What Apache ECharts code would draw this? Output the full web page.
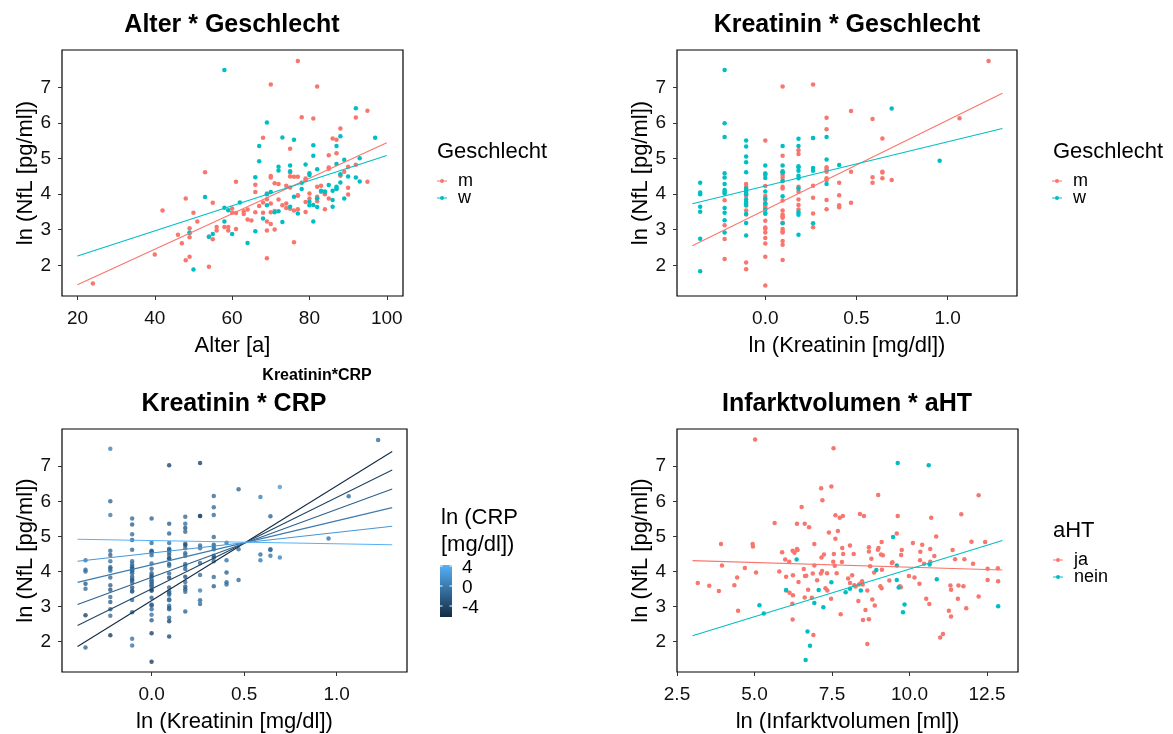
<!DOCTYPE html>
<html>
<head>
<meta charset="utf-8">
<script src="https://cdn.jsdelivr.net/npm/echarts@6/dist/echarts.min.js"></script>
<style>
  html, body { margin: 0; padding: 0; background: #ffffff; }
  #chart { width: 1173px; height: 734px; }
</style>
</head>
<body>
<div id="chart"></div>
<script>
// ---------- data ----------
// Alter [a] vs. ln(NfL) by sex
const alterM = [
  [77,7.75],[70,7.09],[82,7.03],[95,6.35],[92,6.16],[78,6.17],[81,6.13],[88,5.85],[68,5.59],[86,5.57],
  [87,5.53],[75,5.28],[87,5.15],[85,5.10],[53,4.62],[92,4.83],[90,4.77],[85,4.75],[85,4.72],[75,4.61],
  [89,4.63],[88,4.52],[70,4.51],[70,4.47],[76,4.49],[77,4.49],[75,4.50],[79,4.44],[79,4.40],[71,4.31],
  [72,4.29],[95,4.35],[61,4.35],[66,4.27],[83,4.24],[82,4.21],[90,4.18],[74,4.24],[75,4.19],[83,4.07],
  [84,4.00],[66,4.06],[80,4.02],[90,3.99],[69,4.02],[77,3.97],[77,3.96],[48,3.88],[55,3.76],[80,3.88],
  [82,3.93],[82,3.89],[85,3.88],[72,3.85],[82,3.80],[68,3.77],[69,3.86],[70,3.74],[79,3.78],[74,3.74],
  [73,3.69],[67,3.67],[42,3.54],[50,3.48],[60,3.60],[84,3.58],[77,3.58],[74,3.61],[75,3.59],[76,3.54],
  [70,3.49],[71,3.53],[79,3.50],[66,3.49],[68,3.48],[60,3.48],[61,3.47],[63,3.52],[63,3.44],[64,3.57],
  [64,3.29],[65,3.26],[69,3.23],[70,3.16],[51,3.23],[56,3.08],[58,3.08],[59,3.08],[61,3.02],[59,2.98],
  [56,2.98],[49,3.04],[49,2.91],[46,2.86],[69,2.98],[71,3.01],[47,2.62],[55,2.73],[54,2.80],[49,2.79],
  [76,2.65],[40,2.30],[49,2.24],[48,2.14],[54,1.96],[69,2.20],[24,1.49]
];
const alterW = [
  [58,7.50],[92,6.42],[69,6.02],[88,5.63],[73,5.60],[97,5.59],[76,5.53],[67,5.36],[81,5.38],[87,5.36],
  [81,5.08],[67,4.93],[93,5.01],[89,4.97],[72,4.77],[75,4.81],[79,4.84],[87,4.85],[82,4.70],[72,4.67],
  [75,4.65],[80,4.59],[80,4.54],[66,4.48],[92,4.47],[90,4.50],[88,4.56],[78,4.32],[93,4.36],[88,4.33],
  [85,4.26],[87,4.21],[87,4.16],[87,4.15],[78,4.15],[83,4.10],[84,4.08],[84,4.06],[86,4.10],[70,4.06],
  [53,3.92],[69,4.00],[89,3.88],[82,3.88],[86,3.84],[76,3.93],[80,3.79],[80,3.69],[81,3.70],[69,3.69],
  [62,3.77],[58,3.62],[59,3.55],[86,3.65],[75,3.65],[71,3.49],[72,3.52],[77,3.46],[82,3.64],[68,3.32],
  [73,3.22],[81,3.23],[58,3.23],[49,2.92],[66,2.96],[55,2.88],[60,2.88],[54,2.80],[64,2.63],[50,1.88]
];
// fitted lines, Alter range 20..100
const alterFitM = [[20,1.45],[100,5.45]];
const alterFitW = [[20,2.26],[100,5.09]];

// ln(Kreatinin) vs. ln(NfL) by sex; third value = ln(CRP [mg/dl])
const kreaM = [
  [-0.223,3.83,-1.2],[-0.223,3.13,-2.0],[-0.223,2.74,-0.8],[-0.223,2.18,-4.5],
  [-0.105,4.29,-1.5],[-0.105,4.21,-0.6],[-0.105,4.02,-2.2],[-0.105,3.95,-1.0],[-0.105,3.54,-2.8],[-0.105,3.43,-1.4],[-0.105,2.08,-0.5],[-0.105,1.89,-0.2],
  [0,5.51,-1.6],[0,4.59,-2.4],[0,4.54,-1.1],[0,4.23,-0.7],[0,3.95,-1.8],[0,3.84,-3.0],[0,3.74,-1.3],[0,3.70,-0.4],[0,3.65,-2.1],[0,3.60,-1.0],
  [0,3.48,-3.4],[0,3.25,-1.5],[0,3.06,-0.6],[0,3.03,-2.6],[0,2.92,-1.2],[0,2.77,-0.3],[0,2.61,-1.9],[0,2.24,-4.3],[0,1.43,-4.6],
  [0.095,7.03,-4.2],[0.095,5.08,-1.4],[0.095,4.61,-3.1],[0.095,4.54,-0.9],[0.095,4.47,-1.7],[0.095,4.38,-0.5],[0.095,4.21,-2.5],[0.095,4.16,-1.1],
  [0.095,3.82,-3.6],[0.095,3.54,-1.6],[0.095,3.43,-0.8],[0.095,3.38,-2.2],[0.095,3.34,-1.3],[0.095,3.20,-3.8],[0.095,3.02,-0.7],[0.095,2.96,-2.9],
  [0.095,2.92,-1.5],[0.095,2.68,-0.9],[0.095,2.58,-4.0],[0.095,2.15,-3.5],
  [0.182,5.24,-2.7],[0.182,5.13,-1.2],[0.182,4.21,-0.6],[0.182,4.07,-1.9],[0.182,3.85,-3.2],[0.182,3.70,-1.0],[0.182,3.57,-2.3],
  [0.262,7.09,-4.4],[0.262,5.58,-2.6],[0.262,4.24,-1.3],[0.262,3.90,-0.7],[0.262,3.46,0.6],[0.262,3.07,-1.1],
  [0.336,6.15,-1.4],[0.336,5.83,-0.9],[0.336,4.76,-2.0],[0.336,4.70,-1.2],[0.336,4.63,-0.5],[0.336,4.45,-1.6],[0.336,4.40,-2.4],[0.336,3.84,-1.0],[0.336,3.58,-1.8],
  [0.405,4.32,-0.4],[0.405,3.97,-2.1],[0.405,3.69,-1.3],[0.405,3.63,-0.8],
  [0.470,6.34,-1.5],[0.470,4.63,-0.6],[0.470,3.76,-1.2],
  [0.588,6.12,0.3],[0.588,4.48,-1.0],[0.588,4.32,0.1],
  [0.642,5.57,-1.7],[0.642,4.63,-2.3],[0.642,4.61,-1.1],[0.642,4.45,-0.4],
  [0.693,4.40,0.8],
  [1.065,6.14,-0.9],
  [1.224,7.75,-1.1]
];
const kreaW = [
  [-0.357,4.32,-0.2],[-0.357,4.05,-1.3],[-0.357,4.00,-0.9],[-0.357,3.65,-2.4],[-0.357,3.51,-1.1],[-0.357,2.75,-4.3],[-0.357,1.83,-1.5],
  [-0.223,7.50,0.6],[-0.223,6.00,-1.4],[-0.223,5.61,0.2],[-0.223,4.59,-1.0],[-0.223,4.47,-1.9],[-0.223,4.29,-0.6],[-0.223,4.12,-2.2],
  [-0.223,4.07,-1.2],[-0.223,4.02,-0.3],[-0.223,3.61,-1.6],[-0.223,3.48,-2.7],[-0.223,3.27,-0.8],[-0.223,2.92,-1.3],
  [-0.105,5.51,-1.1],[-0.105,5.34,-1.8],[-0.105,5.06,-0.7],[-0.105,4.90,-2.3],[-0.105,4.62,-1.2],[-0.105,4.16,-0.4],[-0.105,4.12,-1.5],[-0.105,4.07,-2.8],
  [-0.105,4.00,-1.0],[-0.105,3.85,-1.7],[-0.105,3.79,-0.6],[-0.105,3.74,-3.1],[-0.105,3.68,-1.3],[-0.105,3.44,-2.0],[-0.105,3.19,-0.9],[-0.105,2.84,-1.4],
  [0,4.81,-1.2],[0,4.57,-2.1],[0,4.46,-0.5],[0,4.08,-1.6],[0,3.88,-2.6],[0,3.74,-0.8],[0,3.57,-1.4],[0,3.45,-3.3],
  [0.095,5.36,-2.0],[0.095,4.81,-1.0],[0.095,4.65,-0.6],[0.095,4.61,-1.8],[0.095,4.37,-2.9],[0.095,3.94,-1.2],[0.095,3.18,-0.4],
  [0.182,5.56,-1.3],[0.182,5.36,-0.7],[0.182,4.79,-2.2],[0.182,4.75,-3.5],[0.182,4.66,-1.1],[0.182,4.52,-1.9],[0.182,4.45,-0.5],[0.182,4.16,-1.4],
  [0.182,3.49,-3.0],[0.182,3.42,-1.0],[0.182,2.86,-1.6],
  [0.262,5.58,-3.6],[0.262,4.74,-1.2],[0.262,4.66,-0.6],[0.262,3.18,-1.5],
  [0.336,5.61,-1.0],[0.336,4.98,-1.4],[0.336,4.29,-0.8],
  [0.405,4.82,-0.9],
  [0.693,6.41,2.3],
  [0.956,4.94,-0.6]
];
// fitted lines, ln(Kreatinin) range -0.40..1.30
const kreaFitM = [[-0.40,2.55],[1.30,6.84]];
const kreaFitW = [[-0.40,3.73],[1.30,5.85]];

// Kreatinin * CRP interaction: predicted lines at six CRP levels
const crpRange = [-6.2, 4.2];
const crpLevels = [-6.2, -4.12, -2.04, 0.04, 2.12, 4.2];
const crpFitLeft = [1.86, 2.46, 3.06, 3.69, 4.29, 4.92];   // at ln(Kreatinin) = -0.40
const crpFitRight = [7.42, 6.89, 6.35, 5.82, 5.29, 4.76];  // at ln(Kreatinin) = 1.30
const crpFitX = [-0.40, 1.30];
const crpTicks = [4, 0, -4];

// ln(Infarktvolumen) vs. ln(NfL) by aHT
const infJa = [
  [5.02,7.76],[7.55,7.51],[8.99,6.18],[12.23,6.17],[7.48,6.42],[7.15,6.37],[7.19,6.03],[6.52,5.84],[10.70,5.53],[11.67,5.63],
  [5.65,5.38],[6.37,5.36],[6.62,5.36],[6.76,5.26],[8.40,5.64],[8.53,5.58],[7.61,5.60],[7.85,5.58],[7.75,5.53],[9.62,5.58],
  [7.40,5.11],[7.69,5.15],[7.61,4.93],[9.59,5.08],[10.86,5.00],[12.00,4.85],[12.44,4.84],[3.92,4.78],[4.94,4.78],[4.95,4.71],
  [6.93,4.78],[8.08,4.74],[7.83,4.67],[9.10,4.84],[10.11,4.81],[10.41,4.76],[9.00,4.67],[8.98,4.62],[8.69,4.69],[8.69,4.57],
  [9.75,4.61],[10.35,4.56],[10.67,4.64],[11.39,4.61],[5.89,4.55],[6.23,4.59],[6.37,4.64],[6.39,4.61],[6.29,4.53],[7.24,4.48],
  [7.16,4.40],[7.56,4.50],[7.86,4.50],[8.20,4.50],[8.77,4.36],[9.08,4.48],[9.14,4.46],[9.73,4.47],[9.11,4.05],[3.95,4.17],
  [4.69,4.10],[5.99,4.34],[6.12,4.28],[6.93,4.17],[7.18,4.01],[7.14,3.94],[7.54,4.28],[7.59,4.16],[7.82,4.27],[8.73,4.15],
  [9.43,4.24],[9.45,4.26],[10.34,4.32],[10.47,4.22],[10.67,4.28],[10.80,4.44],[11.47,4.35],[11.77,4.35],[12.05,4.22],[5.05,3.97],
  [5.80,4.00],[6.59,4.07],[6.02,3.85],[6.24,3.89],[6.63,3.87],[6.42,3.70],[6.67,3.88],[6.88,3.94],[7.02,3.75],[7.34,3.95],
  [7.65,3.95],[8.15,3.89],[8.86,3.97],[9.98,3.87],[10.16,3.83],[3.17,3.67],[3.54,3.59],[3.85,3.44],[4.35,3.61],[4.44,3.83],
  [6.02,3.46],[6.13,3.39],[6.24,3.32],[6.73,3.48],[7.29,3.52],[7.35,3.46],[7.47,3.22],[8.02,3.80],[8.08,3.67],[8.22,3.61],
  [8.37,3.63],[8.42,3.66],[8.47,3.72],[8.49,3.63],[8.26,3.57],[8.64,3.46],[9.06,3.58],[9.10,3.52],[9.35,3.74],[9.69,3.58],
  [9.72,3.55],[10.32,3.65],[11.34,3.48],[11.32,3.60],[11.58,3.60],[11.74,3.58],[12.52,4.08],[12.52,3.76],[12.85,4.09],[12.86,3.72],
  [6.62,3.26],[6.85,3.25],[6.22,3.08],[7.78,2.78],[8.35,3.16],[8.80,3.20],[8.88,3.03],[8.58,2.90],[8.50,2.62],[8.69,2.64],
  [10.54,3.22],[10.64,3.07],[11.27,2.88],[11.34,2.72],[11.56,3.22],[11.83,2.95],[12.23,3.29],[4.47,2.88],[6.23,2.63],[6.90,2.19],
  [8.64,1.93],[10.99,2.12],[11.08,2.22]
];
const infNein = [
  [9.62,7.09],[10.62,7.03],[9.47,4.98],[6.36,4.34],[9.59,4.17],[8.93,4.04],[10.65,4.20],[7.48,3.69],[9.59,3.76],[9.65,3.54],
  [10.88,3.78],[6.02,3.47],[7.07,3.47],[8.43,3.46],[7.94,3.41],[8.08,3.51],[7.22,2.98],[6.93,3.10],[5.16,3.04],[5.30,2.80],
  [9.84,3.06],[9.79,2.84],[12.86,3.01],[6.71,2.29],[6.79,1.88],[6.65,1.48]
];
// fitted lines, ln(Infarktvolumen) range 3.0..13.0
const infFitJa = [[3.0,4.31],[13.0,4.04]];
const infFitNein = [[3.0,2.17],[13.0,4.88]];

// tick labels
const ticksNfl = [2, 3, 4, 5, 6, 7];
const ticksAlter = [20, 40, 60, 80, 100];
const ticksKrea = [0, 0.5, 1.0];
const ticksInf = [2.5, 5.0, 7.5, 10.0, 12.5];

// ---------- styling ----------
const FONT = '"Liberation Sans", Arial, Helvetica, sans-serif';
const RED = '#F8766D';
const TEAL = '#00BFC4';
const CRP_LOW = [0x13, 0x2B, 0x43];
const CRP_HIGH = [0x56, 0xB1, 0xF7];
const PT = 4.5;

function crpColor(v) {
  let t = (v - crpRange[0]) / (crpRange[1] - crpRange[0]);
  t = Math.max(0, Math.min(1, t));
  const c = CRP_LOW.map((a, i) => Math.round(a + (CRP_HIGH[i] - a) * t));
  return 'rgb(' + c.join(',') + ')';
}

const grids = [
  { left: 62,  top: 50,  width: 341, height: 246 },
  { left: 677, top: 50,  width: 340, height: 246 },
  { left: 62,  top: 429, width: 345, height: 246 },
  { left: 677, top: 429, width: 341, height: 246 }
].map(g => Object.assign({ show: true, borderColor: '#000', borderWidth: 1.2, backgroundColor: '#fff', containLabel: false }, g));

function xAxisDef(idx, min, max, ticks, fmt, name) {
  return {
    type: 'value', gridIndex: idx, min: min, max: max,
    axisLine: { show: false, onZero: false },
    axisTick: { show: true, length: 4, customValues: ticks, lineStyle: { color: '#333', width: 1 } },
    axisLabel: { customValues: ticks, formatter: fmt, fontFamily: FONT, fontSize: 19, color: '#111', margin: 13 },
    splitLine: { show: false },
    name: name, nameLocation: 'middle', nameGap: 39,
    nameTextStyle: { fontFamily: FONT, fontSize: 22, color: '#000' }
  };
}
function yAxisDef(idx) {
  return {
    type: 'value', gridIndex: idx, min: 1.135, max: 8.06,
    axisLine: { show: false, onZero: false },
    axisTick: { show: true, length: 4, customValues: ticksNfl, lineStyle: { color: '#333', width: 1 } },
    axisLabel: { customValues: ticksNfl, formatter: v => String(v), fontFamily: FONT, fontSize: 19, color: '#111', margin: 11 },
    splitLine: { show: false },
    name: 'ln (NfL [pg/ml])', nameLocation: 'middle', nameGap: 24,
    nameTextStyle: { fontFamily: FONT, fontSize: 22, color: '#000' }
  };
}

function scatter(idx, data, color) {
  return {
    type: 'scatter', xAxisIndex: idx, yAxisIndex: idx, data: data,
    symbolSize: PT, itemStyle: { color: color, opacity: 1 }, silent: true,
    encode: { x: 0, y: 1 }
  };
}
function fitLine(idx, data, color) {
  return {
    type: 'line', xAxisIndex: idx, yAxisIndex: idx, data: data,
    symbol: 'none', lineStyle: { color: color, width: 1.1 }, silent: true, z: 3
  };
}

const series = [
  scatter(0, alterM, RED), scatter(0, alterW, TEAL),
  fitLine(0, alterFitM, RED), fitLine(0, alterFitW, TEAL),
  scatter(1, kreaM, RED), scatter(1, kreaW, TEAL),
  fitLine(1, kreaFitM, RED), fitLine(1, kreaFitW, TEAL),
  {
    type: 'scatter', xAxisIndex: 2, yAxisIndex: 2, data: kreaM.concat(kreaW),
    symbolSize: PT, silent: true, encode: { x: 0, y: 1 },
    itemStyle: { color: p => crpColor(p.value[2]) }
  },
  scatter(3, infJa, RED), scatter(3, infNein, TEAL),
  fitLine(3, infFitJa, RED), fitLine(3, infFitNein, TEAL)
];
crpLevels.forEach((lvl, i) => {
  series.push(fitLine(2, [[crpFitX[0], crpFitLeft[i]], [crpFitX[1], crpFitRight[i]]], crpColor(lvl)));
});

// ---------- titles and legends ----------
function text(x, y, str, size, opts) {
  return {
    type: 'text', x: x, y: y, silent: true,
    style: Object.assign({ text: str, fontFamily: FONT, fontSize: size, fill: '#000',
      textAlign: 'center', textVerticalAlign: 'middle' }, opts || {})
  };
}
function legendKey(x, y, color, label) {
  return [
    { type: 'line', silent: true, shape: { x1: x - 5, y1: y, x2: x + 5, y2: y }, style: { stroke: color, lineWidth: 1 } },
    { type: 'circle', silent: true, shape: { cx: x, cy: y, r: 2 }, style: { fill: color } },
    text(x + 16, y, label, 18, { textAlign: 'left' })
  ];
}

const graphic = [
  text(232, 25, 'Alter * Geschlecht', 25, { fontWeight: 'bold' }),
  text(847, 25, 'Kreatinin * Geschlecht', 25, { fontWeight: 'bold' }),
  text(234, 404, 'Kreatinin * CRP', 25, { fontWeight: 'bold' }),
  text(847, 404, 'Infarktvolumen * aHT', 25, { fontWeight: 'bold' }),
  text(317, 376, 'Kreatinin*CRP', 16, { fontWeight: 'bold' }),

  text(437, 152, 'Geschlecht', 22, { textAlign: 'left' }),
  ...legendKey(442, 181, RED, 'm'),
  ...legendKey(442, 198, TEAL, 'w'),

  text(1053, 152, 'Geschlecht', 22, { textAlign: 'left' }),
  ...legendKey(1057, 181, RED, 'm'),
  ...legendKey(1057, 198, TEAL, 'w'),

  text(1053, 531, 'aHT', 22, { textAlign: 'left' }),
  ...legendKey(1058, 560, RED, 'ja'),
  ...legendKey(1058, 577, TEAL, 'nein'),

  text(441, 518, 'ln (CRP', 22, { textAlign: 'left' }),
  text(441, 545, '[mg/dl])', 22, { textAlign: 'left' })
];

// colour bar for ln(CRP)
const barX = 440, barTop = 565, barH = 52, barW = 12;
graphic.push({
  type: 'rect', silent: true,
  shape: { x: barX, y: barTop, width: barW, height: barH },
  style: {
    fill: new echarts.graphic.LinearGradient(0, 0, 0, 1, [
      { offset: 0, color: crpColor(crpRange[1]) },
      { offset: 1, color: crpColor(crpRange[0]) }
    ])
  }
});
crpTicks.forEach(v => {
  const y = barTop + (crpRange[1] - v) / (crpRange[1] - crpRange[0]) * barH;
  graphic.push({ type: 'line', silent: true, shape: { x1: barX, y1: y, x2: barX + 2.5, y2: y }, style: { stroke: '#fff', lineWidth: 1 } });
  graphic.push({ type: 'line', silent: true, shape: { x1: barX + barW - 2.5, y1: y, x2: barX + barW, y2: y }, style: { stroke: '#fff', lineWidth: 1 } });
  graphic.push(text(462, y + 2, String(v), 19, { textAlign: 'left' }));
});

const option = {
  animation: false,
  backgroundColor: '#ffffff',
  grid: grids,
  xAxis: [
    xAxisDef(0, 16.0, 104.2, ticksAlter, v => String(v), 'Alter [a]'),
    xAxisDef(1, -0.484, 1.38, ticksKrea, v => v.toFixed(1), 'ln (Kreatinin [mg/dl])'),
    xAxisDef(2, -0.484, 1.38, ticksKrea, v => v.toFixed(1), 'ln (Kreatinin [mg/dl])'),
    xAxisDef(3, 2.5, 13.5, ticksInf, v => v.toFixed(1), 'ln (Infarktvolumen [ml])')
  ],
  yAxis: [yAxisDef(0), yAxisDef(1), yAxisDef(2), yAxisDef(3)],
  series: series,
  graphic: graphic
};

const chart = echarts.init(document.getElementById('chart'), null, { renderer: 'canvas' });
chart.setOption(option);
</script>
</body>
</html>
